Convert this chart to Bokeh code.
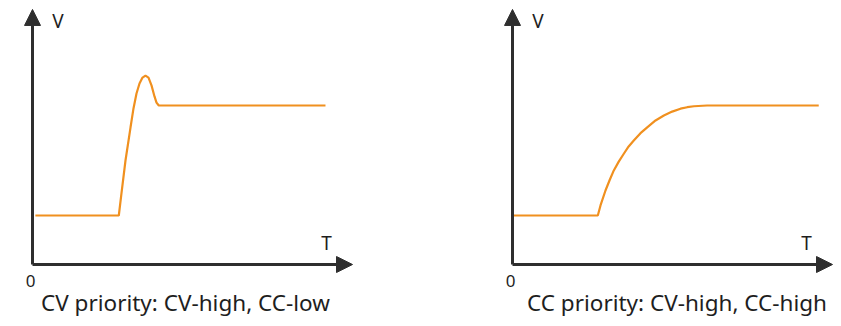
from bokeh.plotting import figure
from bokeh.layouts import row
from bokeh.models import Range1d, Arrow, NormalHead
from bokeh.core.properties import value
from bokeh.embed import file_html
from bokeh.resources import INLINE

# ---- data (time T, voltage V in arbitrary units) ----
cv_t = [0.09, 2.697, 2.78, 2.906, 3.0625, 3.156, 3.25, 3.344, 3.4375, 3.531,
        3.625, 3.719, 3.8125, 3.875, 3.947, 9.156]
cv_v = [2.0, 2.0, 2.90, 4.245, 5.59, 6.37, 6.98, 7.39, 7.63, 7.71,
        7.63, 7.31, 6.86, 6.61, 6.49, 6.49]

cc_t = [0.0, 2.666, 2.75, 2.906, 3.04, 3.166, 3.32, 3.478, 3.63, 3.79, 4.0,
        4.21, 4.47, 4.73, 4.99, 5.25, 5.46, 5.67, 6.08, 9.57]
cc_v = [2.0, 2.0, 2.41, 3.02, 3.46, 3.84, 4.20, 4.52, 4.82, 5.06, 5.36,
        5.60, 5.88, 6.08, 6.24, 6.36, 6.42, 6.46, 6.49, 6.49]

captions = ["CV priority: CV-high, CC-low", "CC priority: CV-high, CC-high"]
caption_x = [4.78, 5.14]
axis_x_label = "T"
axis_y_label = "V"
origin_label = "0"

T_MAX = 10.0
V_MAX = 10.41

LINE_COLOR = "#f0901f"
AXIS_COLOR = "#2e2e2e"
TEXT_COLOR = "#1e1e1e"
FONT = "Noto Sans"

Y_RANGE = (-62 / 24.5, 264 / 24.5)


def make_panel(t, v, caption, cx, width, x_start):
    p = figure(width=width, height=326, output_backend="svg", toolbar_location=None,
               x_range=Range1d(x_start, x_start + width / 32.0),
               y_range=Range1d(*Y_RANGE), min_border=0,
               min_border_left=0, min_border_right=0, min_border_top=0, min_border_bottom=0)
    p.axis.visible = False
    p.grid.visible = False
    p.outline_line_color = None
    p.background_fill_color = "white"
    p.border_fill_color = "white"

    # axes with arrowheads
    p.add_layout(Arrow(x_start=0, y_start=0, x_end=T_MAX, y_end=0,
                       line_color=AXIS_COLOR, line_width=3,
                       end=NormalHead(size=16, fill_color=AXIS_COLOR, line_color=AXIS_COLOR, line_width=1)))
    p.add_layout(Arrow(x_start=0, y_start=0, x_end=0, y_end=V_MAX,
                       line_color=AXIS_COLOR, line_width=3,
                       end=NormalHead(size=16, fill_color=AXIS_COLOR, line_color=AXIS_COLOR, line_width=1)))

    p.line(t, v, line_color=LINE_COLOR, line_width=2.2)

    p.text(x=[0.62], y=[9.92], text=[axis_y_label], text_font=value(FONT),
           text_font_size="19px", text_color=TEXT_COLOR,
           text_align="left", text_baseline="middle")
    p.text(x=[9.19], y=[0.86], text=[axis_x_label], text_font=value(FONT),
           text_font_size="19px", text_color=TEXT_COLOR,
           text_align="center", text_baseline="middle")
    p.text(x=[-0.06], y=[-0.67], text=[origin_label], text_font=value(FONT),
           text_font_size="17px", text_color=TEXT_COLOR,
           text_align="center", text_baseline="middle")
    p.text(x=[cx], y=[-1.55], text=[caption], text_font=value(FONT),
           text_font_size="22.5px", text_color=TEXT_COLOR,
           text_align="center", text_baseline="middle")
    return p


p1 = make_panel(cv_t, cv_v, captions[0], caption_x[0], 480, -1.0)
p2 = make_panel(cc_t, cc_v, captions[1], caption_x[1], 361, -1.0)

layout = row(p1, p2)
open("out.html", "w").write(file_html(layout, INLINE))
